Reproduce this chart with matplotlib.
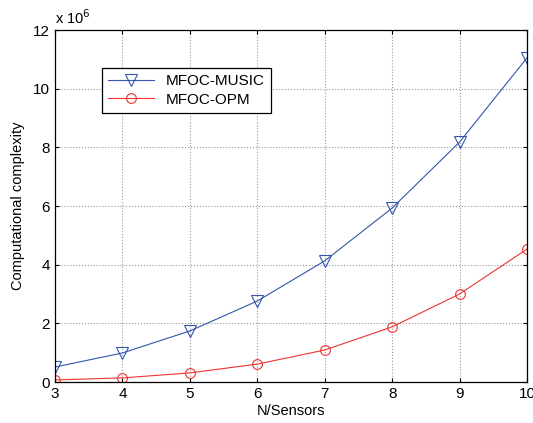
import matplotlib
matplotlib.use("Agg")
import matplotlib.pyplot as plt

sensors = [3, 4, 5, 6, 7, 8, 9, 10]
music = [0.51, 0.99, 1.74, 2.76, 4.13, 5.93, 8.18, 11.05]
opm = [0.07, 0.14, 0.31, 0.61, 1.09, 1.88, 3.00, 4.53]
yticks = [0, 2, 4, 6, 8, 10, 12]

plt.rcParams['font.family'] = ['Liberation Sans', 'DejaVu Sans']
fig = plt.figure(figsize=(5.33, 4.23), dpi=100)
ax = fig.add_axes([55/533, 1-382/423, (527-55)/533, (382-30)/423])

ax.plot(sensors, music, color='#3355aa', lw=0.8, marker='v', ms=8,
        mfc='none', mec='#3355aa', mew=0.8, label='MFOC-MUSIC')
ax.plot(sensors, opm, color='#ee3333', lw=0.8, marker='o', ms=7,
        mfc='none', mec='#ee3333', mew=0.8, label='MFOC-OPM')

ax.set_xlim(3, 10)
ax.set_ylim(0, 12)
ax.set_xticks(sensors)
ax.set_yticks(yticks)
ax.grid(True, color='#999999', ls=':', lw=0.8)
ax.tick_params(direction='in', labelsize=11, length=3, top=True, right=True)
for s in ax.spines.values():
    s.set_linewidth(0.9)
ax.set_xlabel('N/Sensors', fontsize=10.5, labelpad=2)
ax.set_ylabel('Computational complexity', fontsize=10.5, labelpad=6)
ax.text(0, 1.008, r'x 10$^{6}$', transform=ax.transAxes, fontsize=10.5,
        ha='left', va='bottom')

leg = ax.legend(loc='upper left', bbox_to_anchor=(47/472, 1-38/352),
                borderaxespad=0, fontsize=11, fancybox=False,
                edgecolor='black', framealpha=1, borderpad=0.4,
                handlelength=3, labelspacing=0.3)
leg.get_frame().set_linewidth(0.9)

fig.savefig('out.png', dpi=100)
